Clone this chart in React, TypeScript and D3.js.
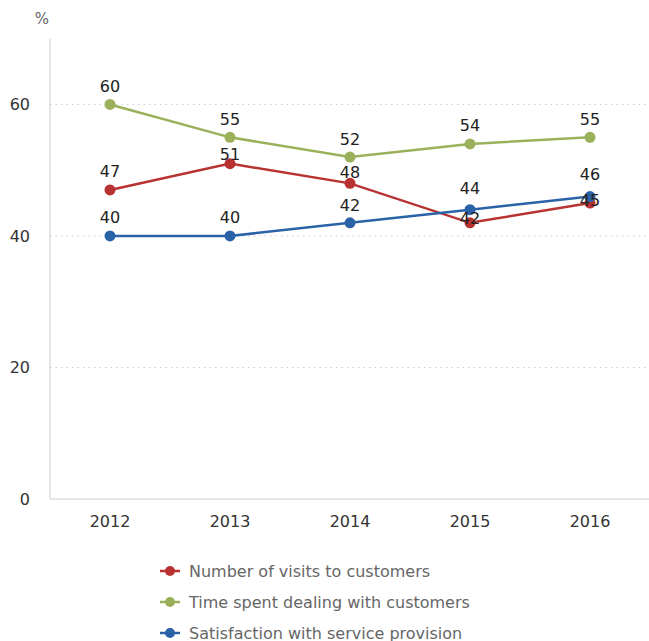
import React from "react";
import * as d3 from "d3";

const years = ["2012", "2013", "2014", "2015", "2016"];
const visits = [47, 51, 48, 42, 45];
const timeSpent = [60, 55, 52, 54, 55];
const satisfaction = [40, 40, 42, 44, 46];
const yTicks = [0, 20, 40, 60];

// label baseline offsets (px) relative to point, mimicking reference placement
const visitsLabelDy = [-13, -4, -5, 1, 3];
const timeLabelDy = [-12, -12, -12, -13, -12];
const satLabelDy = [-13, -13, -12, -16, -17];

const seriesList = [
  { name: "Number of visits to customers", values: visits, color: "#b83232", dy: visitsLabelDy },
  { name: "Time spent dealing with customers", values: timeSpent, color: "#9bb05a", dy: timeLabelDy },
  { name: "Satisfaction with service provision", values: satisfaction, color: "#2a62a8", dy: satLabelDy },
];

export default function App() {
  const W = 649, H = 641;
  const x = d3.scaleBand().domain(years).range([50, 650]);
  const y = d3.scaleLinear().domain([0, 70]).range([499, 38.7]);
  const cx = (d: string) => (x(d) as number) + x.bandwidth() / 2;
  const line = d3.line<number>().x((_, i) => cx(years[i])).y((v) => y(v));
  const font = "Verdana, 'DejaVu Sans', sans-serif";
  return (
    <svg width={W} height={H} style={{ position: "absolute", left: 0, top: 0 }} fontFamily={font}>
      <text x={42} y={24} fontSize={15} fill="#666" textAnchor="middle">%</text>
      {yTicks.filter((t) => t > 0).map((t) => (
        <line key={t} x1={50} x2={650} y1={y(t)} y2={y(t)} stroke="#ccc" strokeDasharray="1.5,4" />
      ))}
      <line x1={50} x2={50} y1={38.7} y2={499} stroke="#ccc" />
      <line x1={50} x2={650} y1={499} y2={499} stroke="#ccc" />
      {yTicks.map((t) => (
        <text key={t} x={30} y={y(t) + 6} fontSize={16} fill="#333" textAnchor="end">{t}</text>
      ))}
      {years.map((yr) => (
        <text key={yr} x={cx(yr)} y={527} fontSize={16} fill="#333" textAnchor="middle">{yr}</text>
      ))}
      {seriesList.map((s) => (
        <g key={s.name}>
          <path d={line(s.values) || ""} fill="none" stroke={s.color} strokeWidth={2.5} />
          {s.values.map((v, i) => (
            <circle key={i} cx={cx(years[i])} cy={y(v)} r={5.5} fill={s.color} />
          ))}
        </g>
      ))}
      {seriesList.map((s) =>
        s.values.map((v, i) => (
          <text key={s.name + i} x={cx(years[i])} y={y(v) + s.dy[i]} fontSize={16} fill="#222" textAnchor="middle">{v}</text>
        ))
      )}
      {seriesList.map((s, i) => {
        const ly = 571 + i * 31;
        return (
          <g key={s.name}>
            <line x1={160} x2={180} y1={ly} y2={ly} stroke={s.color} strokeWidth={2.5} />
            <circle cx={170} cy={ly} r={5} fill={s.color} />
            <text x={189} y={ly + 6} fontSize={16} fill="#666">{s.name}</text>
          </g>
        );
      })}
    </svg>
  );
}
